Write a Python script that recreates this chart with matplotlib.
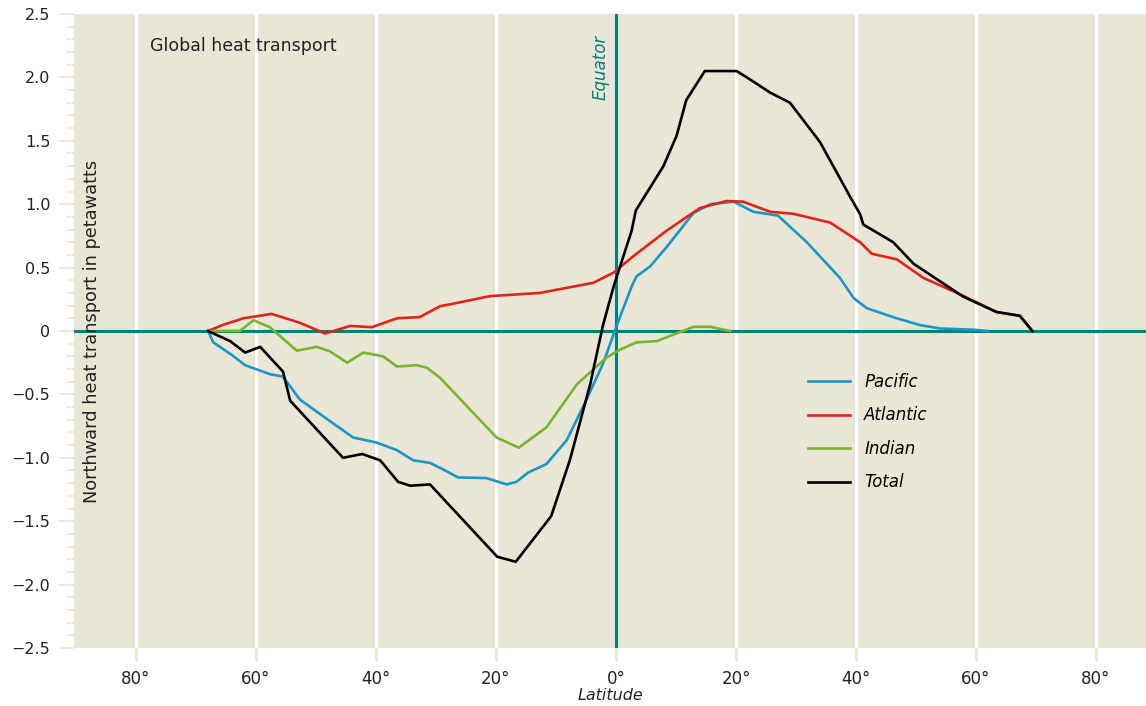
import matplotlib.pyplot as plt
from matplotlib.ticker import MultipleLocator, FuncFormatter

# latitude (deg, negative = south) and northward heat transport (PW)
lat_total = [-68, -64.3, -61.8, -59.3, -55.5, -54.3, -45.5, -42.3, -39.3, -36.3,
             -34.3, -31, -19.8, -16.7, -10.8, -7.7, -4.3, -2.2, -0.4, 2.6, 3.3,
             7.9, 10.1, 11.7, 14.8, 20.1, 21.8, 25.7, 29, 34, 39, 40.7, 41.2,
             46.2, 49.6, 57.9, 63.4, 67.3, 69.4]
val_total = [0, -0.08, -0.17, -0.125, -0.32, -0.55, -1.0, -0.97, -1.02, -1.19,
             -1.22, -1.21, -1.78, -1.82, -1.46, -1.02, -0.42, 0.04, 0.35, 0.79, 0.95,
             1.30, 1.54, 1.82, 2.05, 2.05, 2.0, 1.88, 1.80, 1.49, 1.06, 0.92, 0.84,
             0.70, 0.53, 0.27, 0.15, 0.12, 0]

lat_atl = [-68, -65.4, -62.1, -57.4, -52.7, -48.5, -44.3, -40.7, -36.5, -32.7,
           -29.3, -27.7, -21, -12.7, -3.8, -0.4, 2.9, 8.4, 14, 18.4, 21.2, 25.7,
           29.5, 35.7, 40.7, 42.6, 46.8, 51.2, 57.3, 63.4, 67.3, 69.4]
val_atl = [0, 0.05, 0.10, 0.135, 0.065, -0.02, 0.04, 0.03, 0.10, 0.11,
           0.196, 0.21, 0.275, 0.30, 0.38, 0.46, 0.59, 0.79, 0.97, 1.025, 1.02, 0.94,
           0.925, 0.855, 0.70, 0.61, 0.565, 0.42, 0.29, 0.15, 0.12, 0]

lat_pac = [-68, -67.1, -64, -61.8, -57.7, -55.5, -52.7, -47.7, -43.8, -39.9,
           -36.5, -33.8, -31, -29.3, -26.3, -21.6, -18.2, -16.6, -14.6, -11.6,
           -8.2, -4.9, -2.1, 0.1, 2.6, 3.4, 5.7, 8.4, 12.9, 15.7, 19.6, 22.9, 27,
           31.8, 37.3, 39.6, 41.8, 46.8, 50.7, 54, 59.6, 62]
val_pac = [0, -0.09, -0.19, -0.27, -0.34, -0.36, -0.54, -0.71, -0.84, -0.88,
           -0.94, -1.02, -1.04, -1.08, -1.155, -1.16, -1.21, -1.19, -1.115, -1.05,
           -0.86, -0.54, -0.25, 0.04, 0.35, 0.43, 0.51, 0.66, 0.93, 1.0, 1.02, 0.94, 0.91,
           0.70, 0.42, 0.26, 0.18, 0.10, 0.046, 0.02, 0.01, 0]

lat_ind = [-68, -62.7, -60.4, -57.7, -53.2, -49.9, -47.7, -44.8, -42.1, -38.8,
           -36.5, -33.2, -31.5, -29.3, -27.7, -19.9, -16.2, -11.6, -6.5, -1.6, 0.7,
           3.4, 6.8, 12.9, 15.7, 19]
val_ind = [0, 0, 0.085, 0.03, -0.155, -0.125, -0.16, -0.25, -0.17, -0.20,
           -0.28, -0.27, -0.29, -0.37, -0.45, -0.84, -0.92, -0.76, -0.42, -0.21, -0.146,
           -0.09, -0.08, 0.033, 0.033, 0]

lat_ticks = [-80, -60, -40, -20, 0, 20, 40, 60, 80]

bg = '#e9e6d6'
teal = '#00807f'
ink = '#222222'

plt.rcParams['font.family'] = ['DejaVu Sans']
fig = plt.figure(figsize=(11.46, 7.06), dpi=100)
ax = fig.add_axes([74 / 1146, 58 / 706, 1 - 74 / 1146, (648 - 14) / 706])
ax.set_facecolor(bg)
for s in ax.spines.values():
    s.set_visible(False)

ax.set_xlim(-90.33, 88.33)
ax.set_ylim(-2.5, 2.5)

for x in lat_ticks:
    ax.axvline(x, color='white', lw=2.2, zorder=1)
ax.axhline(0, color=teal, lw=2.2, zorder=2)
ax.axvline(0, color=teal, lw=2.2, zorder=2)

ax.plot(lat_pac, val_pac, color='#1b96c9', lw=1.9, label='Pacific', zorder=3)
ax.plot(lat_atl, val_atl, color='#e2231a', lw=1.9, label='Atlantic', zorder=3)
ax.plot(lat_ind, val_ind, color='#78b42e', lw=1.9, label='Indian', zorder=3)
ax.plot(lat_total, val_total, color='black', lw=1.9, label='Total', zorder=4)

ax.set_xticks(lat_ticks)
ax.xaxis.set_major_formatter(FuncFormatter(lambda v, p: f'{abs(int(v))}°'))
ax.yaxis.set_major_locator(MultipleLocator(0.5))
ax.yaxis.set_minor_locator(MultipleLocator(0.1))
ax.yaxis.set_major_formatter(FuncFormatter(
    lambda v, p: '0' if abs(v) < 1e-9 else f'{v:.1f}'.replace('-', '\u2212')))
ax.tick_params(axis='x', length=9, width=2.2, color=bg, labelsize=12, pad=7,
               labelcolor=ink)
ax.tick_params(axis='y', which='major', length=11, width=1.2, color=bg,
               labelsize=11.5, pad=6, labelcolor=ink)
ax.tick_params(axis='y', which='minor', length=5.5, width=1.2, color=bg)

fig.text(150 / 1146, 1 - 46 / 706, 'Global heat transport', fontsize=12.5,
         color=ink, va='center')
ax.text(-2.6, 2.08, 'Equator', rotation=90, color=teal, fontsize=12,
        style='italic', ha='center', va='center')
ax.text(0.0168, 0.5, 'Northward heat transport in petawatts', rotation=90,
        transform=ax.transAxes, fontsize=12.8, color=ink,
        ha='center', va='center')
ax.set_xlabel('Latitude', fontsize=11.5, style='italic', color=ink, labelpad=0)

ax.legend(loc='upper left', bbox_to_anchor=(0.677, 0.447), frameon=False,
          prop={'style': 'italic', 'size': 12},
          handlelength=2.52, handletextpad=0.84, labelspacing=0.93, borderpad=0)

fig.savefig('out.png', dpi=100)
